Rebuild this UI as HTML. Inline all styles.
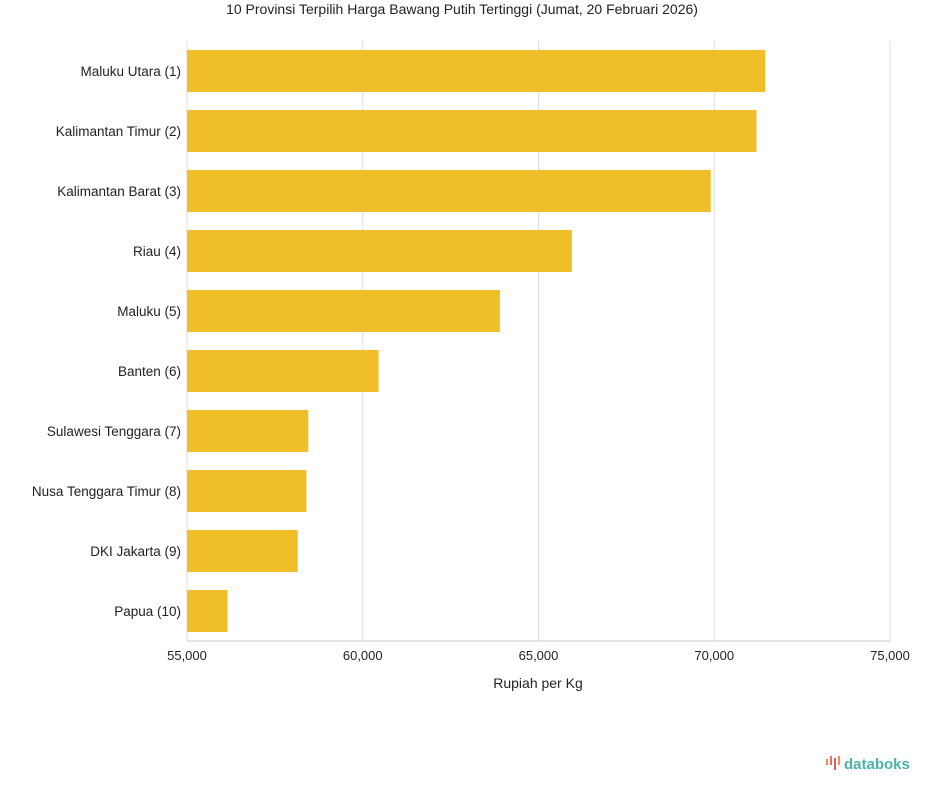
<!DOCTYPE html>
<html><head><meta charset="utf-8"><style>
body{margin:0;background:#fff;font-family:"Liberation Sans",sans-serif;}
svg text{font-family:"Liberation Sans",sans-serif;}
</style></head><body>
<svg id="chart" width="925" height="792">
<text x="462" y="14" text-anchor="middle" font-size="14" fill="#222">10 Provinsi Terpilih Harga Bawang Putih Tertinggi (Jumat, 20 Februari 2026)</text>
<g id="grid"></g><g id="bars"></g><g id="ylabels"></g><g id="xticks"></g>
<text x="538" y="688" text-anchor="middle" font-size="14" fill="#222">Rupiah per Kg</text>
<g>
<rect x="826" y="759" width="2" height="6" fill="#f08a5d"/><rect x="830" y="756" width="2" height="9" fill="#f06a5d"/><rect x="834" y="758" width="2" height="12" fill="#e85a5a"/><rect x="838" y="756" width="2" height="9" fill="#f08a5d"/>
<text x="844" y="769" font-size="15" fill="#4bb3a8" font-weight="bold">databoks</text>
</g>
</svg>
<script>
const categories=["Maluku Utara (1)","Kalimantan Timur (2)","Kalimantan Barat (3)","Riau (4)","Maluku (5)","Banten (6)","Sulawesi Tenggara (7)","Nusa Tenggara Timur (8)","DKI Jakarta (9)","Papua (10)"];
const values=[71450,71200,69900,65950,63900,60450,58450,58400,58150,56150];
const ticks=[55000,60000,65000,70000,75000];
const tickLabels=["55,000","60,000","65,000","70,000","75,000"];
const NS="http://www.w3.org/2000/svg";
const x0=187,x1=890,topY=41,band=60;
const xs=v=>x0+(v-55000)/20000*(x1-x0);
function mk(p,t,a){const e=document.createElementNS(NS,t);for(const k in a)e.setAttribute(k,a[k]);document.getElementById(p).appendChild(e);return e;}
ticks.forEach((t,i)=>{
 const g=mk("grid","line",{x1:xs(t),x2:xs(t),y1:topY,y2:641,stroke:"#ddd","stroke-width":1});
 
 
 const l=mk("xticks","text",{x:xs(t),y:660,"text-anchor":"middle","font-size":13,fill:"#222"});
 l.textContent=tickLabels[i];
 
 
});
const ax=mk("grid","line",{x1:x0,x2:x1,y1:641,y2:641,stroke:"#ccc"});


categories.forEach((c,i)=>{
 const y=topY+i*band;
 const b=mk("bars","rect",{x:x0,y:y+9,width:xs(values[i])-x0,height:42,fill:"#efbe29"});
 
 
 const t=mk("ylabels","text",{x:181,y:y+35,"text-anchor":"end","font-size":13.5,fill:"#222"});
 t.textContent=c;
 
 
});
</script>
</body></html>
